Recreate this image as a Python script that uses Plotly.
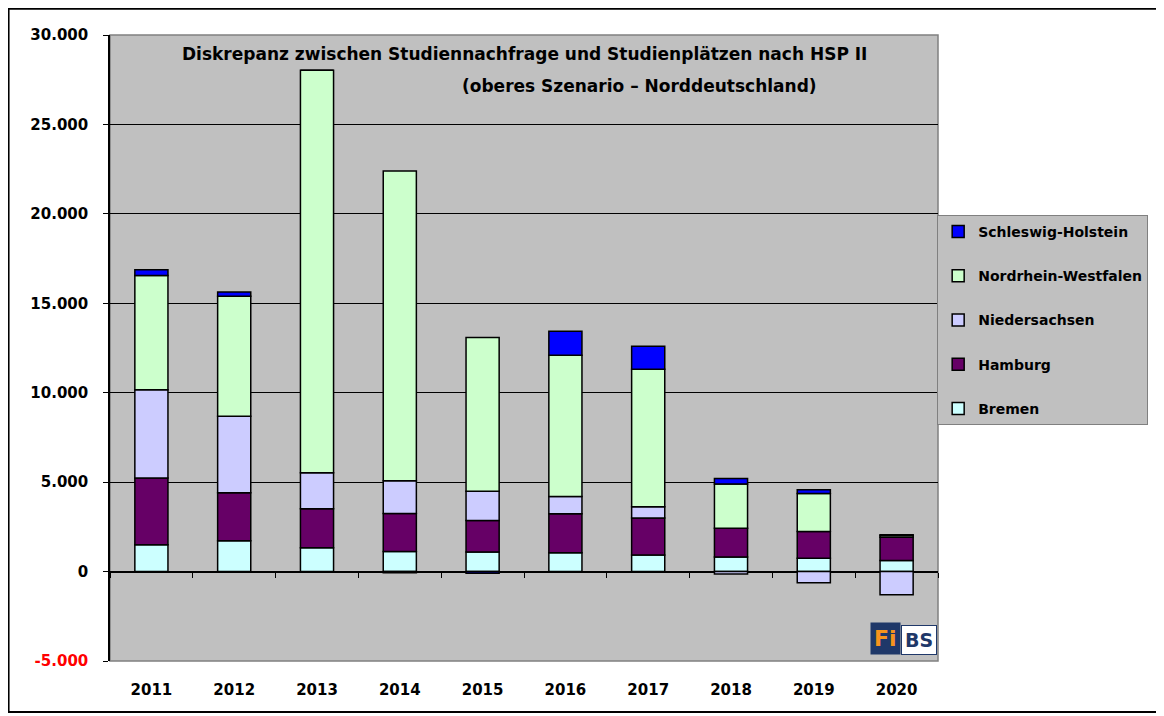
import plotly.graph_objects as go

years = ["2011", "2012", "2013", "2014", "2015", "2016", "2017", "2018", "2019", "2020"]

bremen = [1500, 1720, 1330, 1120, 1100, 1050, 930, 820, 750, 620]
hamburg = [3730, 2690, 2180, 2130, 1750, 2180, 2070, 1600, 1490, 1300]
niedersachsen = [4930, 4270, 2020, 1830, 1640, 970, 620, -130, -620, -1290]
nordrhein_westfalen = [6400, 6720, 22500, 17310, 8600, 7890, 7690, 2480, 2130, 90]
schleswig_holstein = [320, 230, 0, -60, -90, 1340, 1290, 310, 205, 50]

y_ticks = [-5000, 0, 5000, 10000, 15000, 20000, 25000, 30000]
y_tick_text = ['<span style="color:#FF0000">-5.000</span>', "0", "5.000", "10.000",
               "15.000", "20.000", "25.000", "30.000"]

series = [
    ("Bremen", bremen, "#CCFFFF"),
    ("Hamburg", hamburg, "#660066"),
    ("Niedersachsen", niedersachsen, "#CCCCFF"),
    ("Nordrhein-Westfalen", nordrhein_westfalen, "#CCFFCC"),
    ("Schleswig-Holstein", schleswig_holstein, "#0000FF"),
]

font = "DejaVu Sans"

fig = go.Figure()
for i, (name, vals, col) in enumerate(series):
    fig.add_trace(go.Bar(
        x=years, y=vals, name=name, legendgroup=name, legendrank=len(series) - i,
        marker=dict(color=col, line=dict(color="#000000", width=1.5)),
    ))

# helper trace so the tick marks on the zero line get drawn
fig.add_trace(go.Scatter(x=years, y=[0] * len(years), xaxis="x2", mode="none",
                         showlegend=False, hoverinfo="skip"))

y_min, y_max = -5000, 30000

# the page body adds an 8px margin, so the figure is a bit smaller than the window
fig.update_layout(
    width=1156, height=708,
    margin=dict(l=102, r=226, t=27, b=55),
    paper_bgcolor="#FFFFFF",
    plot_bgcolor="#C0C0C0",
    barmode="relative",
    bargap=0.6,
    font=dict(family=font, size=15, color="#000000"),
    showlegend=True,
    legend=dict(
        x=0.999, y=0.7125, xanchor="left", yanchor="top",
        bgcolor="#C0C0C0", bordercolor="#808080", borderwidth=1,
        traceorder="grouped", tracegroupgap=23,
        font=dict(family=font, size=14, color="#000000", weight="bold"),
    ),
    xaxis=dict(
        showgrid=False, showline=False, ticks="",
        tickfont=dict(family=font, size=15, weight="bold"),
        ticklabelstandoff=18,
        range=[-0.5, 9.5],
    ),
    xaxis2=dict(
        overlaying="x", matches="x", anchor="free", position=(0 - y_min) / (y_max - y_min),
        showticklabels=False, showgrid=False, showline=False,
        ticks="outside", tickson="boundaries", ticklen=5, tickcolor="#000000", tickwidth=1,
    ),
    yaxis=dict(
        range=[y_min, y_max], tickvals=y_ticks, ticktext=y_tick_text,
        showgrid=True, gridcolor="#000000", gridwidth=1,
        zeroline=True, zerolinecolor="#000000", zerolinewidth=1.5,
        showline=True, linecolor="#000000", linewidth=1.5,
        ticks="outside", ticklen=5, tickcolor="#000000",
        ticklabelstandoff=12,
        tickfont=dict(family=font, size=15, weight="bold"),
    ),
    shapes=[
        dict(type="rect", xref="paper", yref="paper", x0=0, x1=1, y0=0, y1=1,
             line=dict(color="#808080", width=1.5), layer="below"),
        dict(type="rect", xref="paper", yref="paper", x0=-0.1225, x1=1.2645, y0=-0.0815, y1=1.042,
             line=dict(color="#000000", width=2)),
    ],
    annotations=[
        dict(text="Diskrepanz zwischen Studiennachfrage und Studienplätzen nach HSP II",
             xref="paper", yref="paper", x=0.5, y=0.97, xanchor="center", yanchor="middle",
             showarrow=False, font=dict(family=font, size=17, weight="bold")),
        dict(text="(oberes Szenario – Norddeutschland)",
             xref="paper", yref="paper", x=0.64, y=0.918, xanchor="center", yanchor="middle",
             showarrow=False, font=dict(family=font, size=17, weight="bold")),
        dict(text="<b>Fi</b>", xref="paper", yref="paper", x=0.955, y=0.01,
             xanchor="right", yanchor="bottom", showarrow=False, bgcolor="#1F3869",
             font=dict(family=font, size=22, color="#F7941D"), borderpad=3),
        dict(text="<b>BS</b>", xref="paper", yref="paper", x=0.955, y=0.01,
             xanchor="left", yanchor="bottom", showarrow=False, bgcolor="#FFFFFF",
             bordercolor="#1F3869", borderwidth=1,
             font=dict(family=font, size=19, color="#1F3869"), borderpad=3),
    ],
)

fig.write_html("out.html")
